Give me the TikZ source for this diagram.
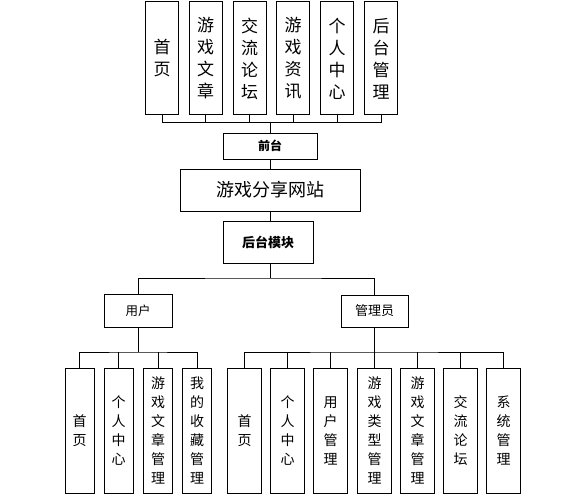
\documentclass[tikz,border=0pt]{standalone}
\usepackage{fontspec}
\setmainfont{Noto Sans CJK SC}

\tikzset{
  module/.style={draw, line width=1pt, inner sep=0pt, align=center},
  topitem/.style={module, minimum width=33pt, minimum height=113pt, font=\fontsize{17}{22}\selectfont},
  useritem/.style={module, minimum width=29pt, minimum height=125pt, font=\fontsize{14}{19}\selectfont},
  adminitem/.style={module, minimum width=34pt, minimum height=125pt, font=\fontsize{14}{19}\selectfont},
  link/.style={line width=1pt},
}

\begin{document}
\begin{tikzpicture}[x=1pt,y=-1pt]
 \useasboundingbox (0,0) rectangle (575,500);

 % front-end pages
 \foreach \name/\x/\txt in {t1/162/{首\\页}, t2/205.5/{游\\戏\\文\\章}, t3/249.5/{交\\流\\论\\坛},
   t4/293/{游\\戏\\资\\讯}, t5/337/{个\\人\\中\\心}, t6/381/{后\\台\\管\\理}}
   \node[topitem] (\name) at (\x,58.5) {\txt};

 \node[module, minimum width=94pt, minimum height=26pt, font=\fontsize{12}{14}\selectfont\bfseries] (front) at (270,146) {前台};
 \node[module, minimum width=180pt, minimum height=42pt, font=\fontsize{18}{20}\selectfont] (site) at (270,190) {游戏分享网站};
 \node[module, minimum width=90pt, minimum height=42pt, font=\fontsize{13}{15}\selectfont\bfseries] (backend) at (268,242) {后台模块};

 \node[module, minimum width=68pt, minimum height=33pt, font=\fontsize{12.5}{14}\selectfont] (user) at (138,310.5) {用户};
 \node[module, minimum width=67pt, minimum height=32pt, font=\fontsize{13}{15}\selectfont] (admin) at (374.5,311) {管理员};

 % user functions
 \foreach \name/\x/\txt in {u1/79.5/{首\\页}, u2/118.5/{个\\人\\中\\心}, u3/158/{游\\戏\\文\\章\\管\\理},
   u4/197/{我\\的\\收\\藏\\管\\理}}
   \node[useritem] (\name) at (\x,430.5) {\txt};

 % admin functions
 \foreach \name/\x/\txt in {a1/244.5/{首\\页}, a2/287.5/{个\\人\\中\\心}, a3/330.5/{用\\户\\管\\理},
   a4/374.5/{游\\戏\\类\\型\\管\\理}, a5/417.5/{游\\戏\\文\\章\\管\\理}, a6/460.5/{交\\流\\论\\坛},
   a7/503.5/{系\\统\\管\\理}}
   \node[adminitem] (\name) at (\x,430.5) {\txt};

 \coordinate (topbus) at (270,123);
 \coordinate (split) at (270,278);
 \coordinate (ubus) at (138,352);
 \coordinate (abus) at (374.5,352);

 \draw[link] (t1.south) -- (t1.south |- topbus) -- (t6.south |- topbus) -- (t6.south);
 \foreach \n in {t2,t3,t4,t5}
   \draw[link] (\n.south) -- (\n.south |- topbus);
 \draw[link] (front.north) -- (front.north |- topbus);
 \draw[link] (front.south) -- (front.south |- site.north);
 \draw[link] (site.south) -- (site.south |- backend.north);

 \draw[link] (site.south |- backend.south) -- (split);
 \draw[link] (user.north) |- (split) -| (admin.north);

 \draw[link] (user.south) -- (ubus);
 \draw[link] (u1.north) |- (ubus) -| (u4.north);
 \foreach \n in {u2,u3}
   \draw[link] (\n.north) -- (\n.north |- ubus);

 \draw[link] (admin.south) -- (abus);
 \draw[link] (a1.north) |- (abus) -| (a7.north);
 \foreach \n in {a2,a3,a4,a5,a6}
   \draw[link] (\n.north) -- (\n.north |- abus);
\end{tikzpicture}
\end{document}
